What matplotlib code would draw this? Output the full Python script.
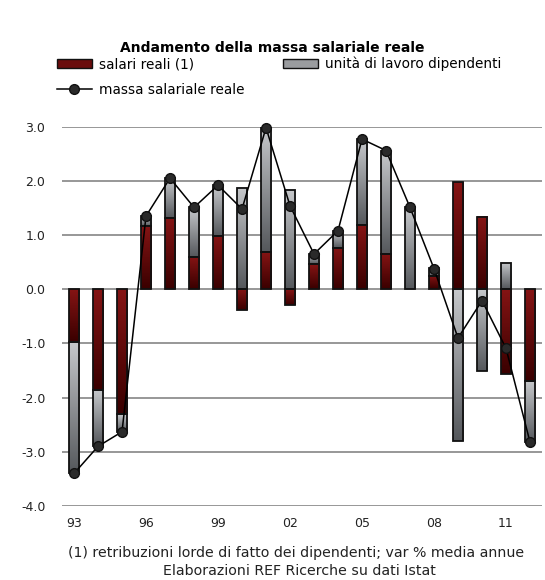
import numpy as np
import matplotlib
matplotlib.use('Agg')
import matplotlib.pyplot as plt
from matplotlib.colors import LinearSegmentedColormap
from matplotlib.patches import Rectangle, Patch
from matplotlib.lines import Line2D

plt.rcParams['font.family'] = 'DejaVu Sans'

years = list(range(1993, 2013))
salari = [-0.97, -1.86, -2.30, 1.17, 1.32, 0.60, 0.98, -0.39, 0.68, -0.29,
          0.46, 0.77, 1.19, 0.65, 0.00, 0.25, 1.97, 1.33, -1.57, -1.69]
ula = [-2.43, -1.04, -0.33, 0.18, 0.73, 0.91, 0.94, 1.87, 2.32, 1.83,
       0.19, 0.31, 1.58, 1.91, 1.51, 0.14, -2.80, -1.51, 0.48, -1.13]
massa = [-3.40, -2.90, -2.63, 1.35, 2.05, 1.51, 1.92, 1.48, 2.98, 1.54,
         0.65, 1.08, 2.77, 2.56, 1.51, 0.38, -0.90, -0.21, -1.09, -2.82]
xticklabels = ['93', '96', '99', '02', '05', '08', '11']

red_cm = LinearSegmentedColormap.from_list('r', ['#3a0000', '#851414'])
gray_cm = LinearSegmentedColormap.from_list('g', ['#55585c', '#c6c8cb'])

fig = plt.figure(figsize=(5.45, 5.80), dpi=100)
ax = fig.add_axes([0.1138, 0.1276, 0.8807, 0.654])

w = 0.42
grad = np.linspace(0, 1, 64).reshape(-1, 1)


def grad_bar(x, lo, hi, cmap):
    if abs(hi - lo) < 1e-9:
        return
    b, t = min(lo, hi), max(lo, hi)
    ax.imshow(grad, cmap=cmap, origin='lower', aspect='auto',
              extent=[x - w / 2, x + w / 2, b, t], zorder=2, interpolation='bilinear')
    ax.add_patch(Rectangle((x - w / 2, b), w, t - b, fill=False,
                           edgecolor='#111111', lw=1.3, zorder=3))


xs = np.arange(len(years))
for i in xs:
    pos, neg = 0.0, 0.0
    for v, cm in [(salari[i], red_cm), (ula[i], gray_cm)]:
        if v >= 0:
            grad_bar(i, pos, pos + v, cm)
            pos += v
        else:
            grad_bar(i, neg, neg + v, cm)
            neg += v

ax.plot(xs, massa, color='black', lw=1.1, marker='o', markersize=7,
        markerfacecolor='#2a2a2a', markeredgecolor='#111111', zorder=4, clip_on=False)

ax.set_xlim(-0.5, len(years) - 0.5)
ax.set_ylim(-4, 3)
ax.set_yticks(np.arange(-4, 3.1, 1))
ax.set_yticklabels(['%.1f' % v for v in np.arange(-4, 3.1, 1)])
ax.set_xticks(xs[::3])
ax.set_xticklabels(xticklabels)
ax.tick_params(length=0, labelsize=9, colors='#222222')
ax.tick_params(axis='y', pad=12)
ax.tick_params(axis='x', pad=8)
ax.yaxis.grid(True, color='#7a7a7a', lw=1.1)
ax.set_axisbelow(True)
for s in ax.spines.values():
    s.set_visible(False)

fig.text(0.5, 0.918, 'Andamento della massa salariale reale', ha='center',
         va='center', fontsize=10, fontweight='bold')

handles = [Patch(facecolor='#6a0c0c', edgecolor='#111111'),
           Line2D([], [], color='black', lw=1.1, marker='o', markersize=7,
                  markerfacecolor='#2a2a2a', markeredgecolor='#111111'),
           Patch(facecolor='#9a9c9f', edgecolor='#111111')]
labels = ['salari reali (1)', 'massa salariale reale', 'unità di lavoro dipendenti']
fig.legend(handles, labels, loc='upper left', bbox_to_anchor=(0.1046, 0.902),
           ncol=2, frameon=False, fontsize=9.8, handlelength=2.55, handleheight=0.66,
           handletextpad=0.5, columnspacing=2.9, labelspacing=0.85, borderpad=0,
           borderaxespad=0)

fig.text(0.543, 0.046, '(1) retribuzioni lorde di fatto dei dipendenti; var % media annue',
         ha='center', va='center', fontsize=10.2, color='#222222')
fig.text(0.55, 0.015, 'Elaborazioni REF Ricerche su dati Istat',
         ha='center', va='center', fontsize=10.2, color='#222222')

fig.savefig('out.png', dpi=100)
